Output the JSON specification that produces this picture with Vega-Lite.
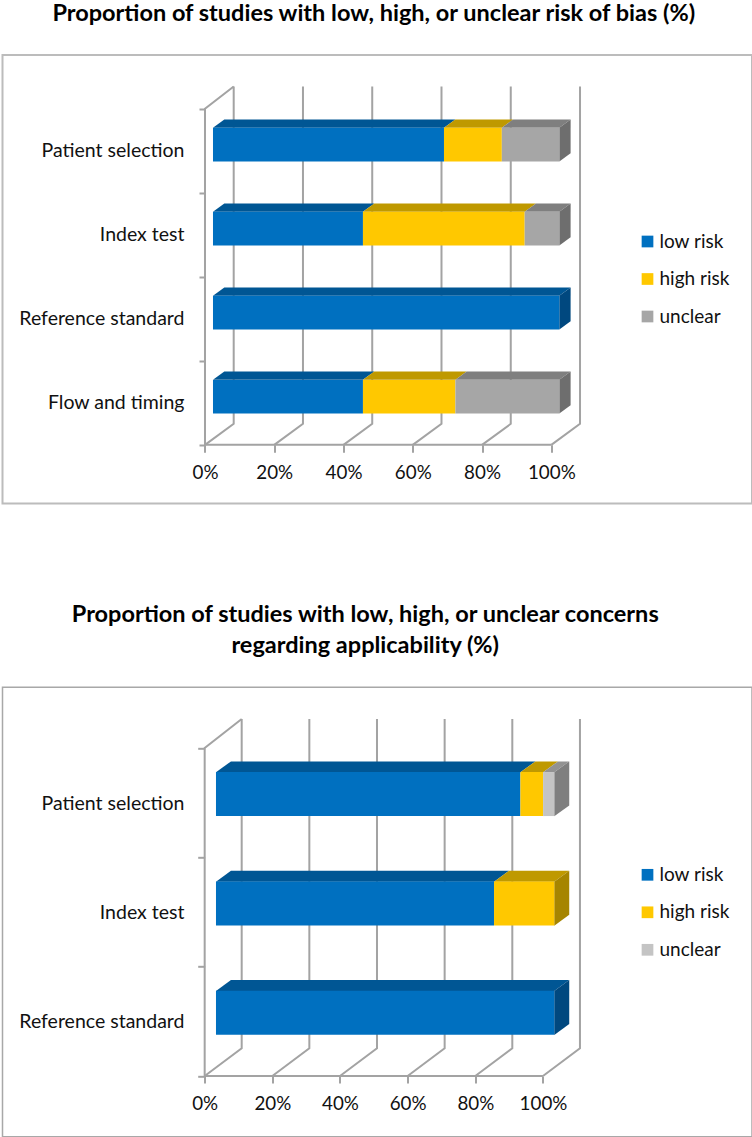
{
"$schema":"https://vega.github.io/schema/vega-lite/v6.json",
"padding":{"left":1.5,"top":0,"right":0,"bottom":0},
"background":"white",
"spacing":96.3,
"config":{"view":{"stroke":"#bcbcbc","strokeWidth":2},"font":"Lato","title":{"font":"Lato","fontWeight":"bold","fontSize":23.5,"color":"#000000","anchor":"middle"},"axis":{"labelFont":"Lato","labelColor":"#111111","grid":false,"domain":false}},
"datasets":{
"bars1":[
{"cat":"Patient selection","risk":"low risk","start":0,"end":66.7,"slot":3.5},
{"cat":"Patient selection","risk":"high risk","start":66.7,"end":83.4,"slot":3.5},
{"cat":"Patient selection","risk":"unclear","start":83.4,"end":100,"slot":3.5},
{"cat":"Index test","risk":"low risk","start":0,"end":43.3,"slot":2.5},
{"cat":"Index test","risk":"high risk","start":43.3,"end":90,"slot":2.5},
{"cat":"Index test","risk":"unclear","start":90,"end":100,"slot":2.5},
{"cat":"Reference standard","risk":"low risk","start":0,"end":100,"slot":1.5},
{"cat":"Flow and timing","risk":"low risk","start":0,"end":43.3,"slot":0.5},
{"cat":"Flow and timing","risk":"high risk","start":43.3,"end":70,"slot":0.5},
{"cat":"Flow and timing","risk":"unclear","start":70,"end":100,"slot":0.5}],
"bars2":[
{"cat":"Patient selection","risk":"low risk","start":0,"end":90,"slot":2.5},
{"cat":"Patient selection","risk":"high risk","start":90,"end":96.7,"slot":2.5},
{"cat":"Patient selection","risk":"unclear","start":96.7,"end":100,"slot":2.5},
{"cat":"Index test","risk":"low risk","start":0,"end":82.2,"slot":1.5},
{"cat":"Index test","risk":"high risk","start":82.2,"end":100,"slot":1.5},
{"cat":"Reference standard","risk":"low risk","start":0,"end":100,"slot":0.5}],
"top1":[
{"cat":"Patient selection","risk":"low risk","y":3.774,"a":2.31,"b":69.01},{"cat":"Patient selection","risk":"low risk","y":3.873,"a":5.57,"b":72.27},
{"cat":"Patient selection","risk":"high risk","y":3.774,"a":69.01,"b":85.71},{"cat":"Patient selection","risk":"high risk","y":3.873,"a":72.27,"b":88.97},
{"cat":"Patient selection","risk":"unclear","y":3.774,"a":85.71,"b":102.31},{"cat":"Patient selection","risk":"unclear","y":3.873,"a":88.97,"b":105.57},
{"cat":"Index test","risk":"low risk","y":2.774,"a":2.31,"b":45.61},{"cat":"Index test","risk":"low risk","y":2.873,"a":5.57,"b":48.87},
{"cat":"Index test","risk":"high risk","y":2.774,"a":45.61,"b":92.31},{"cat":"Index test","risk":"high risk","y":2.873,"a":48.87,"b":95.57},
{"cat":"Index test","risk":"unclear","y":2.774,"a":92.31,"b":102.31},{"cat":"Index test","risk":"unclear","y":2.873,"a":95.57,"b":105.57},
{"cat":"Reference standard","risk":"low risk","y":1.774,"a":2.31,"b":102.31},{"cat":"Reference standard","risk":"low risk","y":1.873,"a":5.57,"b":105.57},
{"cat":"Flow and timing","risk":"low risk","y":0.774,"a":2.31,"b":45.61},{"cat":"Flow and timing","risk":"low risk","y":0.873,"a":5.57,"b":48.87},
{"cat":"Flow and timing","risk":"high risk","y":0.774,"a":45.61,"b":72.31},{"cat":"Flow and timing","risk":"high risk","y":0.873,"a":48.87,"b":75.57},
{"cat":"Flow and timing","risk":"unclear","y":0.774,"a":72.31,"b":102.31},{"cat":"Flow and timing","risk":"unclear","y":0.873,"a":75.57,"b":105.57}],
"side1":[
{"cat":"Patient selection","risk":"unclear","x":102.31,"a":3.3726,"b":3.774},{"cat":"Patient selection","risk":"unclear","x":105.57,"a":3.4715,"b":3.873},
{"cat":"Index test","risk":"unclear","x":102.31,"a":2.3726,"b":2.774},{"cat":"Index test","risk":"unclear","x":105.57,"a":2.4715,"b":2.873},
{"cat":"Reference standard","risk":"low risk","x":102.31,"a":1.3726,"b":1.774},{"cat":"Reference standard","risk":"low risk","x":105.57,"a":1.4715,"b":1.873},
{"cat":"Flow and timing","risk":"unclear","x":102.31,"a":0.3726,"b":0.774},{"cat":"Flow and timing","risk":"unclear","x":105.57,"a":0.4715,"b":0.873}],
"top2":[
{"cat":"Patient selection","risk":"low risk","y":2.7775,"a":3.34,"b":93.34},{"cat":"Patient selection","risk":"low risk","y":2.8775,"a":7.77,"b":97.77},
{"cat":"Patient selection","risk":"high risk","y":2.7775,"a":93.34,"b":100.04},{"cat":"Patient selection","risk":"high risk","y":2.8775,"a":97.77,"b":104.47},
{"cat":"Patient selection","risk":"unclear","y":2.7775,"a":100.04,"b":103.34},{"cat":"Patient selection","risk":"unclear","y":2.8775,"a":104.47,"b":107.77},
{"cat":"Index test","risk":"low risk","y":1.7775,"a":3.34,"b":85.54},{"cat":"Index test","risk":"low risk","y":1.8775,"a":7.77,"b":89.97},
{"cat":"Index test","risk":"high risk","y":1.7775,"a":85.54,"b":103.34},{"cat":"Index test","risk":"high risk","y":1.8775,"a":89.97,"b":107.77},
{"cat":"Reference standard","risk":"low risk","y":0.7775,"a":3.34,"b":103.34},{"cat":"Reference standard","risk":"low risk","y":0.8775,"a":7.77,"b":107.77}],
"side2":[
{"cat":"Patient selection","risk":"unclear","x":103.34,"a":2.375,"b":2.7775},{"cat":"Patient selection","risk":"unclear","x":107.77,"a":2.475,"b":2.8775},
{"cat":"Index test","risk":"high risk","x":103.34,"a":1.375,"b":1.7775},{"cat":"Index test","risk":"high risk","x":107.77,"a":1.475,"b":1.8775},
{"cat":"Reference standard","risk":"low risk","x":103.34,"a":0.375,"b":0.7775},{"cat":"Reference standard","risk":"low risk","x":107.77,"a":0.475,"b":0.8775}],
"walls1":[
{"g":"frame","seq":1,"x":8.29,"y":4.265},{"g":"frame","seq":2,"x":0,"y":4},{"g":"frame","seq":3,"x":0,"y":0},{"g":"frame","seq":4,"x":100,"y":0},
{"g":"t0","seq":1,"x":0,"y":0},{"g":"t0","seq":2,"x":8.29,"y":0.25},{"g":"t0","seq":3,"x":8.29,"y":4.265},
{"g":"t20","seq":1,"x":20,"y":0},{"g":"t20","seq":2,"x":28.29,"y":0.25},{"g":"t20","seq":3,"x":28.29,"y":4.265},
{"g":"t40","seq":1,"x":40,"y":0},{"g":"t40","seq":2,"x":48.29,"y":0.25},{"g":"t40","seq":3,"x":48.29,"y":4.265},
{"g":"t60","seq":1,"x":60,"y":0},{"g":"t60","seq":2,"x":68.29,"y":0.25},{"g":"t60","seq":3,"x":68.29,"y":4.265},
{"g":"t80","seq":1,"x":80,"y":0},{"g":"t80","seq":2,"x":88.29,"y":0.25},{"g":"t80","seq":3,"x":88.29,"y":4.265},
{"g":"t100","seq":1,"x":100,"y":0},{"g":"t100","seq":2,"x":108.29,"y":0.25},{"g":"t100","seq":3,"x":108.29,"y":4.265}],
"walls2":[
{"g":"frame","seq":1,"x":10.94,"y":3.265},{"g":"frame","seq":2,"x":0,"y":3},{"g":"frame","seq":3,"x":0,"y":0},{"g":"frame","seq":4,"x":100,"y":0},
{"g":"t0","seq":1,"x":0,"y":0},{"g":"t0","seq":2,"x":10.94,"y":0.253},{"g":"t0","seq":3,"x":10.94,"y":3.265},
{"g":"t20","seq":1,"x":20,"y":0},{"g":"t20","seq":2,"x":30.94,"y":0.253},{"g":"t20","seq":3,"x":30.94,"y":3.265},
{"g":"t40","seq":1,"x":40,"y":0},{"g":"t40","seq":2,"x":50.94,"y":0.253},{"g":"t40","seq":3,"x":50.94,"y":3.265},
{"g":"t60","seq":1,"x":60,"y":0},{"g":"t60","seq":2,"x":70.94,"y":0.253},{"g":"t60","seq":3,"x":70.94,"y":3.265},
{"g":"t80","seq":1,"x":80,"y":0},{"g":"t80","seq":2,"x":90.94,"y":0.253},{"g":"t80","seq":3,"x":90.94,"y":3.265},
{"g":"t100","seq":1,"x":100,"y":0},{"g":"t100","seq":2,"x":110.94,"y":0.253},{"g":"t100","seq":3,"x":110.94,"y":3.265}]
},
"vconcat":[
{"width":749.5,"height":448.5,
"title":{"text":"Proportion of studies with low, high, or unclear risk of bias (%)","dx":-3.5,"offset":30},
"resolve":{"scale":{"color":"independent"}},
"layer":[
{"data":{"name":"walls1"},"mark":{"type":"line","color":"#a3a3a3","strokeWidth":2,"interpolate":"linear"},
"encoding":{
"x":{"field":"x","type":"quantitative","scale":{"domain":[-58.47,157.95],"nice":false,"zero":false,"padding":0},"axis":{"orient":"bottom","offset":-58.7,"values":[0,20,40,60,80,100],"labelExpr":"datum.value+'%'","title":null,"ticks":true,"tickSize":7.5,"tickColor":"#a3a3a3","tickWidth":2,"labelFontSize":18.8,"labelPadding":11}},
"y":{"field":"y","type":"quantitative","scale":{"domain":[-0.698,4.64],"nice":false,"zero":false,"padding":0},"axis":{"orient":"left","offset":-202.5,"values":[0,1,2,3,4],"labels":false,"title":null,"ticks":true,"tickSize":6,"tickColor":"#a3a3a3","tickWidth":2}},
"detail":{"field":"g"},"order":{"field":"seq"}}},
{"data":{"name":"top1"},"mark":{"type":"area","orient":"horizontal"},
"encoding":{"y":{"field":"y","type":"quantitative","title":null},"x":{"field":"a","type":"quantitative","title":null},"x2":{"field":"b"},"detail":{"field":"cat"},
"color":{"field":"risk","type":"nominal","legend":null,"scale":{"domain":["low risk","high risk","unclear"],"range":["#005694","#bf9900","#7f7f7f"]}}}},
{"data":{"name":"side1"},"mark":{"type":"area","orient":"vertical"},
"encoding":{"x":{"field":"x","type":"quantitative","title":null},"y":{"field":"a","type":"quantitative","title":null},"y2":{"field":"b"},"detail":{"field":"cat"},
"color":{"field":"risk","type":"nominal","legend":null,"scale":{"domain":["low risk","high risk","unclear"],"range":["#00487f","#a68500","#6e6e6e"]}}}},
{"data":{"name":"bars1"},"mark":{"type":"bar","orient":"horizontal","size":33.6,"xOffset":8,"x2Offset":8,"yOffset":-6.15},
"encoding":{"x":{"field":"start","type":"quantitative","title":null},"x2":{"field":"end"},"y":{"field":"slot","type":"quantitative","title":null},
"color":{"field":"risk","type":"nominal","scale":{"domain":["low risk","high risk","unclear"],"range":["#0070c0","#ffc800","#a6a6a6"]},
"legend":{"orient":"none","legendX":635.5,"legendY":177,"title":null,"symbolType":"square","symbolSize":137,"symbolStrokeWidth":0,"labelFont":"Lato","labelFontSize":19,"labelColor":"#111111","rowPadding":17.5,"labelOffset":2.5}}}},
{"data":{"name":"bars1"},"transform":[{"filter":"datum.risk === 'low risk'"}],"mark":{"type":"text","align":"right","baseline":"middle","fontSize":19.5,"font":"Lato","color":"#111111","dx":-20.5,"dy":0.5},
"encoding":{"x":{"datum":0,"type":"quantitative","title":null},"y":{"field":"slot","type":"quantitative","title":null},"text":{"field":"cat"}}}
]},
{"width":749.5,"height":449.4,
"title":{"text":["Proportion of studies with low, high, or unclear concerns","regarding applicability (%)"],"dx":-12,"offset":30,"lineHeight":31},
"view":{"stroke":"#a8a8a8","strokeWidth":1.5},
"resolve":{"scale":{"color":"independent"}},
"layer":[
{"data":{"name":"walls2"},"mark":{"type":"line","color":"#a3a3a3","strokeWidth":2,"interpolate":"linear"},
"encoding":{
"x":{"field":"x","type":"quantitative","scale":{"domain":[-59.77,161.8],"nice":false,"zero":false,"padding":0},"axis":{"orient":"bottom","offset":-60.7,"values":[0,20,40,60,80,100],"labelExpr":"datum.value+'%'","title":null,"ticks":true,"tickSize":7,"tickColor":"#a3a3a3","tickWidth":2,"labelFontSize":18.8,"labelPadding":11}},
"y":{"field":"y","type":"quantitative","scale":{"domain":[-0.555,3.555],"nice":false,"zero":false,"padding":0},"axis":{"orient":"left","offset":-202.2,"values":[0,1,2,3],"labels":false,"title":null,"ticks":true,"tickSize":7,"tickColor":"#a3a3a3","tickWidth":2}},
"detail":{"field":"g"},"order":{"field":"seq"}}},
{"data":{"name":"top2"},"mark":{"type":"area","orient":"horizontal"},
"encoding":{"y":{"field":"y","type":"quantitative","title":null},"x":{"field":"a","type":"quantitative","title":null},"x2":{"field":"b"},"detail":{"field":"cat"},
"color":{"field":"risk","type":"nominal","legend":null,"scale":{"domain":["low risk","high risk","unclear"],"range":["#005694","#bf9900","#929292"]}}}},
{"data":{"name":"side2"},"mark":{"type":"area","orient":"vertical"},
"encoding":{"x":{"field":"x","type":"quantitative","title":null},"y":{"field":"a","type":"quantitative","title":null},"y2":{"field":"b"},"detail":{"field":"cat"},
"color":{"field":"risk","type":"nominal","legend":null,"scale":{"domain":["low risk","high risk","unclear"],"range":["#00487f","#a68500","#7f7f7f"]}}}},
{"data":{"name":"bars2"},"mark":{"type":"bar","orient":"horizontal","size":44,"xOffset":11.3,"x2Offset":11.3,"yOffset":-8.6},
"encoding":{"x":{"field":"start","type":"quantitative","title":null},"x2":{"field":"end"},"y":{"field":"slot","type":"quantitative","title":null},
"color":{"field":"risk","type":"nominal","scale":{"domain":["low risk","high risk","unclear"],"range":["#0070c0","#ffc800","#c4c4c4"]},
"legend":{"orient":"none","legendX":635.5,"legendY":178,"title":null,"symbolType":"square","symbolSize":137,"symbolStrokeWidth":0,"labelFont":"Lato","labelFontSize":19,"labelColor":"#111111","rowPadding":17.5,"labelOffset":2.5}}}},
{"data":{"name":"bars2"},"transform":[{"filter":"datum.risk === 'low risk'"}],"mark":{"type":"text","align":"right","baseline":"middle","fontSize":19.5,"font":"Lato","color":"#111111","dx":-20.2,"dy":1},
"encoding":{"x":{"datum":0,"type":"quantitative","title":null},"y":{"field":"slot","type":"quantitative","title":null},"text":{"field":"cat"}}}
]}
],
"resolve":{"scale":{"color":"independent","x":"independent","y":"independent"}}
}
